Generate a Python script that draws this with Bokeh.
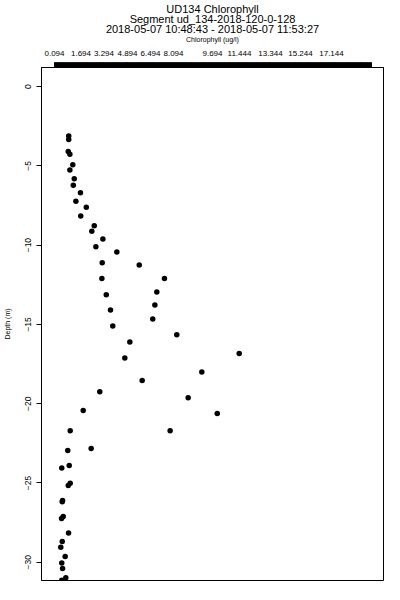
import numpy as np
from bokeh.plotting import figure
from bokeh.models import LinearAxis, FixedTicker, Title, Range1d
from bokeh.embed import file_html
from bokeh.resources import INLINE

# Chlorophyll (ug/l) and depth (m)
chl = [0.97, 0.97, 0.94, 1.04, 1.22, 1.04, 1.31, 1.25, 1.69, 1.41, 2.05, 1.71,
       2.54, 2.39, 3.07, 2.64, 3.93, 3.03, 5.31, 3.01, 6.86, 6.39, 3.28, 6.27,
       3.54, 6.14, 3.68, 7.62, 4.73, 11.46, 4.42, 9.16, 5.49, 2.88, 8.32, 1.86,
       10.11, 1.06, 7.21, 2.35, 0.91, 1.00, 0.54, 1.06, 0.94, 0.59, 0.57, 0.63,
       0.53, 0.96, 0.57, 0.48, 0.75, 0.54, 0.59, 0.79, 0.54]
depth = [-3.12, -3.34, -4.10, -4.27, -4.93, -5.27, -5.82, -6.22, -6.70, -7.23,
         -7.62, -8.17, -8.78, -9.12, -9.62, -10.10, -10.44, -11.11, -11.26,
         -12.10, -12.10, -12.96, -13.13, -13.78, -14.10, -14.66, -15.10, -15.65,
         -16.11, -16.84, -17.12, -18.00, -18.54, -19.24, -19.62, -20.43, -20.62,
         -21.70, -21.70, -22.83, -22.96, -23.90, -24.05, -25.02, -25.16, -26.11,
         -26.19, -27.11, -27.24, -28.15, -28.69, -29.05, -29.63, -30.04, -30.39,
         -30.98, -31.13]

x_tick_labels = ["0.094", "1.694", "3.294", "4.894", "6.494", "8.094", "9.694",
                 "11.444", "13.344", "15.244", "17.144"]
x_tick_pos = [0.094, 1.725, 3.14, 4.586, 6.002, 7.417, 9.817, 11.478, 13.386,
              15.232, 17.14]
y_ticks = [0, -5, -10, -15, -20, -25, -30]

FONT = "Liberation Sans"

p = figure(frame_width=342, frame_height=513,
           output_backend="svg", toolbar_location=None,
           x_range=Range1d(-0.706, 20.34), y_range=Range1d(-31.15, 1.2),
           x_axis_location=None, y_axis_location="left",
           min_border_left=38, min_border_right=12, min_border_top=67,
           min_border_bottom=12)
p.title.visible = False
p.grid.visible = False
p.outline_line_color = "black"
p.outline_line_width = 1
p.outline_line_alpha = 1

yax = p.yaxis[0]
yax.ticker = FixedTicker(ticks=y_ticks)
yax.major_tick_out = 5
yax.major_tick_in = 0
yax.minor_tick_out = 0
yax.minor_tick_in = 0
yax.major_tick_line_color = "black"
yax.axis_line_color = "black"
yax.major_label_orientation = "vertical"
yax.major_label_text_font = FONT
yax.major_label_text_font_size = "8.5px"
yax.major_label_text_color = "black"
yax.major_label_standoff = 5
yax.axis_label = "Depth (m)"
yax.axis_label_text_font = FONT
yax.axis_label_text_font_size = "7px"
yax.axis_label_text_font_style = "normal"
yax.axis_label_text_color = "black"
yax.axis_label_standoff = 12

minor = list(np.arange(0.094, 19.60, 0.02))
top = LinearAxis(ticker=FixedTicker(ticks=x_tick_pos, minor_ticks=minor),
                 major_label_overrides={t: s for t, s in zip(x_tick_pos, x_tick_labels)})
top.major_tick_out = 5
top.major_tick_in = 0
top.minor_tick_out = 5
top.minor_tick_in = 0
top.major_tick_line_color = "black"
top.minor_tick_line_color = "black"
top.axis_line_color = "black"
top.major_label_text_font = FONT
top.major_label_text_font_size = "8px"
top.major_label_text_color = "black"
top.major_label_standoff = 7
top.axis_label = "Chlorophyll (ug/l)"
top.axis_label_text_font = FONT
top.axis_label_text_font_size = "7px"
top.axis_label_text_font_style = "normal"
top.axis_label_text_color = "black"
top.axis_label_standoff = 5
p.add_layout(top, "above")

for line in ["2018-05-07 10:48:43 - 2018-05-07 11:53:27",
             "Segment ud_134-2018-120-0-128",
             "UD134 Chlorophyll"]:
    p.add_layout(Title(text=line, align="center", text_font=FONT,
                       text_font_size="11px", text_font_style="normal",
                       text_color="black", standoff=-4), "above")

p.scatter(chl, depth, size=5.5, color="black", line_color=None)

open("out.html", "w").write(file_html(p, INLINE))
